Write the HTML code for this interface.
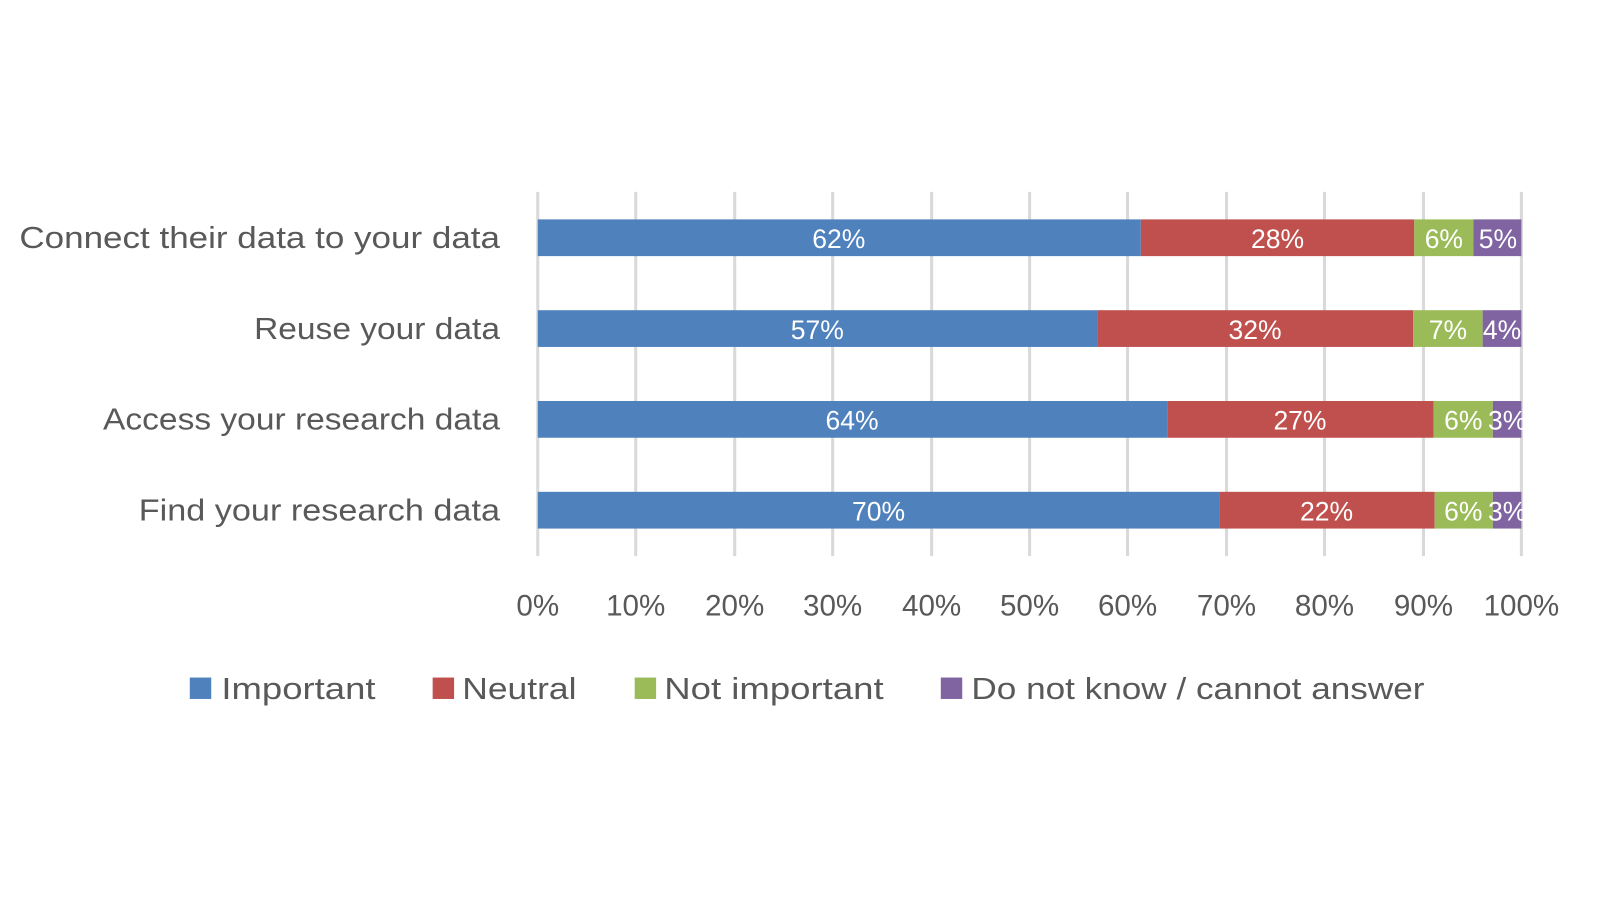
<!DOCTYPE html>
<html><head><meta charset="utf-8"><style>html,body{margin:0;padding:0;background:#fff;width:1600px;height:900px;overflow:hidden}</style></head>
<body>
<svg width="1600" height="900" xmlns="http://www.w3.org/2000/svg" font-family="Liberation Sans, sans-serif">
<g transform="scale(1.0204)">
<g stroke="#d9d9d9" stroke-width="3">
<line x1="527" y1="188" x2="527" y2="545"/><line x1="623" y1="188" x2="623" y2="545"/><line x1="720" y1="188" x2="720" y2="545"/><line x1="816" y1="188" x2="816" y2="545"/><line x1="913" y1="188" x2="913" y2="545"/><line x1="1009" y1="188" x2="1009" y2="545"/><line x1="1105" y1="188" x2="1105" y2="545"/><line x1="1202" y1="188" x2="1202" y2="545"/><line x1="1298" y1="188" x2="1298" y2="545"/><line x1="1395" y1="188" x2="1395" y2="545"/><line x1="1491" y1="188" x2="1491" y2="545"/>
</g>
<g>
<rect x="527" y="215" width="591" height="36" fill="#4f81bd"/><rect x="1118" y="215" width="268" height="36" fill="#c0504d"/><rect x="1386" y="215" width="58" height="36" fill="#9bbb59"/><rect x="1444" y="215" width="47" height="36" fill="#8064a2"/>
<rect x="527" y="304" width="549" height="36" fill="#4f81bd"/><rect x="1076" y="304" width="309" height="36" fill="#c0504d"/><rect x="1385" y="304" width="68" height="36" fill="#9bbb59"/><rect x="1453" y="304" width="38" height="36" fill="#8064a2"/>
<rect x="527" y="393" width="617" height="36" fill="#4f81bd"/><rect x="1144" y="393" width="261" height="36" fill="#c0504d"/><rect x="1405" y="393" width="58" height="36" fill="#9bbb59"/><rect x="1463" y="393" width="28" height="36" fill="#8064a2"/>
<rect x="527" y="482" width="668" height="36" fill="#4f81bd"/><rect x="1195" y="482" width="211" height="36" fill="#c0504d"/><rect x="1406" y="482" width="57" height="36" fill="#9bbb59"/><rect x="1463" y="482" width="28" height="36" fill="#8064a2"/>
</g>
<g fill="#fff" font-size="26" text-anchor="middle">
<text x="822" y="243">62%</text><text x="1252" y="243">28%</text><text x="1415" y="243">6%</text><text x="1468" y="243">5%</text>
<text x="801" y="332">57%</text><text x="1230" y="332">32%</text><text x="1419" y="332">7%</text><text x="1472" y="332">4%</text>
<text x="835" y="421">64%</text><text x="1274" y="421">27%</text><text x="1434" y="421">6%</text><text x="1477" y="421">3%</text>
<text x="861" y="510">70%</text><text x="1300" y="510">22%</text><text x="1434" y="510">6%</text><text x="1477" y="510">3%</text>
</g>
<g fill="#595959" font-size="30" text-anchor="end">
<text x="490" y="243" textLength="471" lengthAdjust="spacingAndGlyphs">Connect their data to your data</text>
<text x="490" y="332" textLength="241" lengthAdjust="spacingAndGlyphs">Reuse your data</text>
<text x="490" y="421" textLength="389" lengthAdjust="spacingAndGlyphs">Access your research data</text>
<text x="490" y="510" textLength="354" lengthAdjust="spacingAndGlyphs">Find your research data</text>
</g>
<g fill="#595959" font-size="29" text-anchor="middle">
<text x="527" y="603">0%</text><text x="623" y="603">10%</text><text x="720" y="603">20%</text><text x="816" y="603">30%</text><text x="913" y="603">40%</text><text x="1009" y="603">50%</text><text x="1105" y="603">60%</text><text x="1202" y="603">70%</text><text x="1298" y="603">80%</text><text x="1395" y="603">90%</text><text x="1491" y="603">100%</text>
</g>
<rect x="186" y="664" width="21" height="21" fill="#4f81bd"/><rect x="424" y="664" width="21" height="21" fill="#c0504d"/><rect x="622" y="664" width="21" height="21" fill="#9bbb59"/><rect x="922" y="664" width="21" height="21" fill="#8064a2"/>
<g fill="#595959" font-size="30">
<text x="217" y="685" textLength="151" lengthAdjust="spacingAndGlyphs">Important</text>
<text x="453" y="685" textLength="112" lengthAdjust="spacingAndGlyphs">Neutral</text>
<text x="651" y="685" textLength="215" lengthAdjust="spacingAndGlyphs">Not important</text>
<text x="952" y="685" textLength="444" lengthAdjust="spacingAndGlyphs">Do not know / cannot answer</text>
</g>
</g>
</svg>
</body></html>
